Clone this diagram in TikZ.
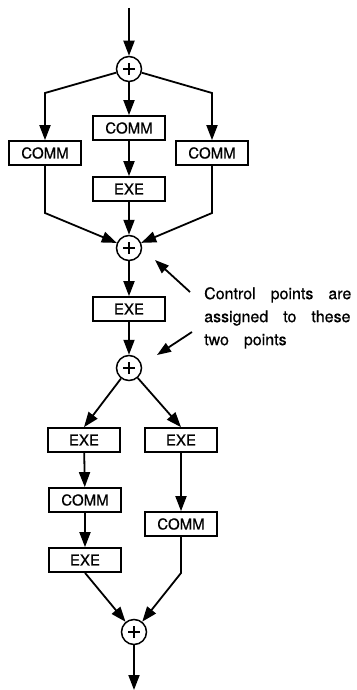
\documentclass[tikz,border=0pt]{standalone}
\usepackage{fontspec}
\setmainfont{TeX Gyre Heros}[FakeBold=0.6]
\usetikzlibrary{positioning,arrows.meta}

% font of the remark, with wide gaps between words
\protected\def\remarkfont{\fontsize{16}{23}\selectfont\spaceskip=15pt\relax}

\begin{document}
\begin{tikzpicture}[
        x=1pt, y=-1pt, % work in points, with y running downwards
        % Define a style for the COMM and EXE boxes
        task/.style={draw, line width=1.7pt, minimum width=72pt, minimum height=24pt,
            inner sep=0pt, font=\fontsize{15}{15}\selectfont},
        % Define a style for the fork and join points (circle with a plus)
        join_point/.style={circle, draw, line width=1.5pt, minimum size=25pt, inner sep=0pt,
            path picture={
                \draw[line width=1.2pt]
                    ([xshift=-6pt]path picture bounding box.center) -- ([xshift=6pt]path picture bounding box.center)
                    ([yshift=-6pt]path picture bounding box.center) -- ([yshift=6pt]path picture bounding box.center);
            }},
        % Define a style for the flow arrows
        flow/.style={line width=1.8pt, -{Triangle[length=15pt,width=11pt]}},
        % Define a style for the remark and its pointers
        note/.style={align=left, inner sep=0pt, font=\remarkfont},
        pointer/.style={line width=1.8pt, -{Triangle[length=14pt,width=10pt]}}
    ]

    % Fix the page size
    \useasboundingbox (0,0) rectangle (356,690);

    % Upper part: three branches between two points
    \coordinate (start) at (129,8);
    \node[join_point] (fork1) at (129,69) {};
    \node[task] (comm_l) at (45,153) {COMM};
    \node[task] (comm_m) at (129,128) {COMM};
    \node[task] (comm_r) at (212,153) {COMM};
    \node[task] (exe_m) at (129,189) {EXE};
    \node[join_point] (join1) at (129,248) {};

    % Middle part
    \node[task] (exe_c) at (129,309) {EXE};
    \node[join_point] (fork2) at (129,368) {};

    % Lower part: two branches
    \node[task] (exe_l1) at (84,440) {EXE};
    \node[task] (comm_l2) at (85,500) {COMM};
    \node[task] (exe_l2) at (85,560) {EXE};
    \node[task] (exe_r1) at (181,440) {EXE};
    \node[task] (comm_r2) at (181,524) {COMM};
    \node[join_point] (join2) at (134,632) {};
    \coordinate (finish) at (134,690);

    % Connect the upper part
    \draw[flow] (start) -- (fork1);
    \draw[flow] (fork1) -- (45,93) -- (comm_l);
    \draw[flow] (fork1) -- (comm_m);
    \draw[flow] (fork1) -- (212,93) -- (comm_r);
    \draw[flow] (comm_m) -- (exe_m);
    \draw[flow] (comm_l) -- (45,213) -- (join1);
    \draw[flow] (exe_m) -- (join1);
    \draw[flow] (comm_r) -- (212,213) -- (join1);

    % Connect the middle part
    \draw[flow] (join1) -- (exe_c);
    \draw[flow] (exe_c) -- (fork2);

    % Connect the lower part
    \draw[flow] (fork2) -- (exe_l1.north);
    \draw[flow] (fork2) -- (exe_r1.north);
    \draw[flow] (exe_l1) -- (comm_l2);
    \draw[flow] (comm_l2) -- (exe_l2);
    \draw[flow] (exe_r1) -- (comm_r2);
    \draw[flow] (exe_l2.south) -- (join2);
    \draw[flow] (comm_r2) -- (181,573) -- (join2);
    \draw[flow] (join2) -- (finish);

    % Remark with two pointers
    \node[note, anchor=north west] (remark) at (204,287) {Control points are\\assigned to these\\two points};
    \coordinate (tail1) at (190,292);
    \coordinate (tip1) at (155,260);
    \coordinate (tail2) at (192,332);
    \coordinate (tip2) at (157,355);
    \draw[pointer] (tail1) -- (tip1);
    \draw[pointer] (tail2) -- (tip2);

\end{tikzpicture}
\end{document}
